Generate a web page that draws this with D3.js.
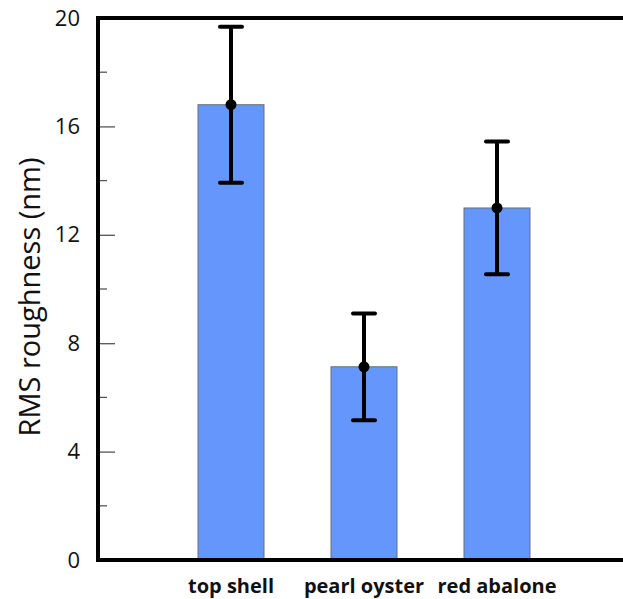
<!DOCTYPE html>
<html>
<head>
<meta charset="utf-8">
<script src="https://cdn.jsdelivr.net/npm/d3@7"></script>
<style>
  body { margin: 0; background: #fff; }
  svg { display: block; font-family: "Open Sans", sans-serif; }
</style>
</head>
<body>
<svg width="623" height="599"></svg>
<script>
const categories = ["top shell", "pearl oyster", "red abalone"];
const means = [16.8, 7.13, 12.99];
const errors = [2.88, 1.97, 2.45];
const majorTicks = [0, 4, 8, 12, 16, 20];
const minorTicks = [2, 6, 10, 14, 18];

const svg = d3.select("svg");
const plotLeft = 98, plotRight = 630, plotTop = 18, plotBottom = 560;

const x = d3.scalePoint().domain(categories).range([plotLeft, plotRight]).padding(1);
const y = d3.scaleLinear().domain([0, 20]).range([plotBottom, plotTop]);
const barW = 66;

// bars
svg.selectAll("rect.bar")
  .data(categories)
  .join("rect")
  .attr("class", "bar")
  .attr("x", d => x(d) - barW / 2)
  .attr("y", (d, i) => y(means[i]))
  .attr("width", barW)
  .attr("height", (d, i) => y(0) - y(means[i]))
  .attr("fill", "#6496fc")
  .attr("stroke", "#6a6f7a")
  .attr("stroke-width", 1);

// error bars
const eb = svg.selectAll("g.err")
  .data(categories)
  .join("g")
  .attr("class", "err");
eb.append("line")
  .attr("x1", d => x(d)).attr("x2", d => x(d))
  .attr("y1", (d, i) => y(means[i] + errors[i]))
  .attr("y2", (d, i) => y(means[i] - errors[i]))
  .attr("stroke", "#000").attr("stroke-width", 4);
eb.append("line")
  .attr("x1", d => x(d) - 11).attr("x2", d => x(d) + 11)
  .attr("y1", (d, i) => y(means[i] + errors[i]))
  .attr("y2", (d, i) => y(means[i] + errors[i]))
  .attr("stroke", "#000").attr("stroke-width", 4).attr("stroke-linecap", "round");
eb.append("line")
  .attr("x1", d => x(d) - 11).attr("x2", d => x(d) + 11)
  .attr("y1", (d, i) => y(means[i] - errors[i]))
  .attr("y2", (d, i) => y(means[i] - errors[i]))
  .attr("stroke", "#000").attr("stroke-width", 4).attr("stroke-linecap", "round");
eb.append("circle")
  .attr("cx", d => x(d))
  .attr("cy", (d, i) => y(means[i]))
  .attr("r", 5.5)
  .attr("fill", "#000");

// y axis ticks and labels
const yAxis = d3.axisLeft(y).tickValues(majorTicks).tickSize(-17).tickPadding(18).tickFormat(d3.format("d"));
const gy = svg.append("g").attr("transform", `translate(${plotLeft},0)`).call(yAxis);
gy.select(".domain").remove();
gy.selectAll(".tick line").attr("stroke", "#555").attr("stroke-width", 1.3);
gy.selectAll(".tick text").attr("font-size", 22).attr("fill", "#111").attr("font-family", "Open Sans, sans-serif");

svg.selectAll("line.minor")
  .data(minorTicks)
  .join("line")
  .attr("class", "minor")
  .attr("x1", plotLeft).attr("x2", plotLeft + 9)
  .attr("y1", d => y(d)).attr("y2", d => y(d))
  .attr("stroke", "#555").attr("stroke-width", 1.3);

// frame
svg.append("path")
  .attr("d", `M${plotRight},${plotTop}H${plotLeft}V${plotBottom}H${plotRight}`)
  .attr("fill", "none")
  .attr("stroke", "#000")
  .attr("stroke-width", 4);

// category labels
svg.selectAll("text.cat")
  .data(categories)
  .join("text")
  .attr("class", "cat")
  .attr("x", d => x(d))
  .attr("y", 593)
  .attr("text-anchor", "middle")
  .attr("font-size", 20)
  .attr("font-weight", "bold")
  .attr("fill", "#111")
  .text(d => d);

// y label
svg.append("text")
  .attr("transform", `translate(40,297) rotate(-90)`)
  .attr("text-anchor", "middle")
  .attr("font-size", 29)
  .attr("fill", "#111")
  .text("RMS roughness (nm)");
</script>
</body>
</html>
